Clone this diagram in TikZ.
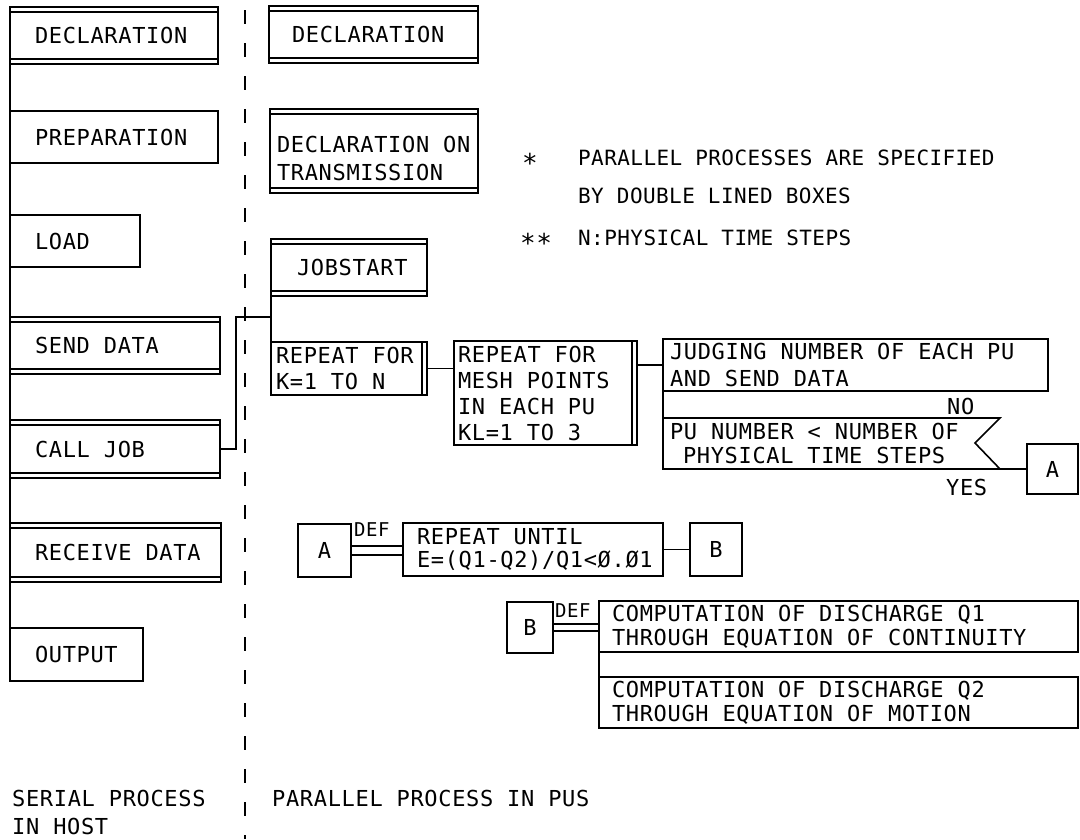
\documentclass[tikz,border=0pt]{standalone}
\usepackage{fontspec}
\newfontfamily\plotfont[LetterSpace=3]{DejaVu Sans Mono}
\newfontfamily\legfont[LetterSpace=2]{DejaVu Sans Mono}
\newcommand\tline[1]{\mbox{#1}}
\begin{document}
\begin{tikzpicture}[x=1pt,y=-1pt,
  ln/.style={line width=1.6pt},
  box/.style={draw, ln, rectangle, anchor=north west, align=left, inner ysep=0pt, outer sep=0pt,
    font=\plotfont\fontsize{22}{26}\selectfont,
    execute at begin node={\spaceskip=0pt\xspaceskip=0pt}},
  pitch/.style={font=\plotfont\fontsize{22}{#1}\selectfont},
  lbl/.style={draw, ln, rectangle, anchor=north west, inner sep=0pt, outer sep=0pt,
    font=\plotfont\fontsize{22}{26}\selectfont},
  txt/.style={inner sep=0pt, font=\plotfont\fontsize{22}{26}\selectfont},
  legtxt/.style={inner sep=0pt, font=\legfont\fontsize{21}{26}\selectfont},
  startxt/.style={inner sep=0pt, font=\legfont\fontsize{26}{26}\selectfont},
  deftxt/.style={inner sep=0pt, font=\plotfont\fontsize{19}{20}\selectfont},
  dbh/.style={path picture={\draw[line width=1.6pt]
    ([yshift=-5pt]path picture bounding box.north west) -- ([yshift=-5pt]path picture bounding box.north east)
    ([yshift=5pt]path picture bounding box.south west) -- ([yshift=5pt]path picture bounding box.south east);}},
  dbv/.style={path picture={\draw[line width=1.6pt]
    ([xshift=-5pt]path picture bounding box.north east) -- ([xshift=-5pt]path picture bounding box.south east);}},
  divider/.style={line width=2.2pt, dash pattern=on 14pt off 19pt}
]
\fill[white] (0,0) rectangle (1080,839);
\useasboundingbox (0,0) rectangle (1080,839);

% ---------- serial process (host) ----------
\node[box, dbh, minimum height=57pt, text width=158pt, inner xsep=25pt] (sdecl) at (10,7) {\tline{DECLARATION}};
\node[box, minimum height=52pt, text width=158pt, inner xsep=25pt] (sprep) at (10,111) {\tline{PREPARATION}};
\node[box, minimum height=52pt, text width=80pt, inner xsep=25pt] (sload) at (10,215) {\tline{LOAD}};
\node[box, dbh, minimum height=57pt, text width=160pt, inner xsep=25pt] (ssend) at (10,317) {\tline{SEND DATA}};
\node[box, dbh, minimum height=58pt, text width=160pt, inner xsep=25pt] (scall) at (10,420) {\tline{CALL JOB}};
\node[box, dbh, minimum height=59pt, text width=161pt, inner xsep=25pt] (srecv) at (10,523) {\tline{RECEIVE DATA}};
\node[box, minimum height=53pt, text width=83pt, inner xsep=25pt] (sout) at (10,628) {\tline{OUTPUT}};
\draw[ln] (sdecl.south west) -- (sout.north west);

% ---------- divider ----------
\coordinate (divtop) at (245,10);
\coordinate (divbot) at (245,839);
\draw[divider] (divtop) -- (divbot);

% ---------- parallel process (PUs) ----------
\node[box, dbh, minimum height=57pt, text width=163pt, inner xsep=23pt] (pdecl) at (269,6) {\tline{DECLARATION}};
\node[box, dbh, pitch=28, minimum height=84pt, text width=194pt, inner xsep=7pt] (ptrans) at (270,109)
  {\rule{0pt}{32pt}\tline{DECLARATION ON}\\\tline{TRANSMISSION}};
\node[box, dbh, minimum height=57pt, text width=104pt, inner xsep=26pt] (pjob) at (271,239) {\tline{JOBSTART}};
\node[box, dbv, pitch=26, minimum height=53pt, text width=146pt, inner xsep=5pt] (prep) at (271,342)
  {\tline{REPEAT FOR}\\\tline{K=1 TO N}};
\node[box, dbv, pitch=26, minimum height=104pt, text width=175pt, inner xsep=4pt] (pmesh) at (454,341)
  {\tline{REPEAT FOR}\\\tline{MESH POINTS}\\\tline{IN EACH PU}\\\tline{KL=1 TO 3}};
\node[box, pitch=27, minimum height=52pt, text width=371pt, inner xsep=7pt] (pjudge) at (663,339)
  {\tline{JUDGING NUMBER OF EACH PU}\\\tline{AND SEND DATA}};

% decision
\node[box, draw=none, pitch=24, minimum height=51pt, text width=300pt, inner xsep=7pt] (dtext) at (663,418)
  {\tline{PU NUMBER < NUMBER OF}\\\hspace*{13pt}\tline{PHYSICAL TIME STEPS}};
\coordinate (dtl) at (663,418);
\coordinate (dtr) at (1000,418);
\coordinate (dap) at (975,443);
\coordinate (dbr) at (1000,469);
\coordinate (dbl) at (663,469);
\draw[ln] (dtl) -- (dtr) -- (dap) -- (dbr) -- (dbl) -- cycle;
\node[txt, anchor=base west] (no) at (947,414) {NO};
\node[txt, anchor=base west] (yes) at (946,495) {YES};
\node[lbl, minimum width=51pt, minimum height=50pt] (aref) at (1027,444) {A};

% connectors (parallel)
\coordinate (ctop) at (236,317);
\coordinate (pj) at (pjob.south west |- ctop);
\draw[ln] (scall.east) -| (ctop) -- (pj);
\draw[ln] (pjob.south west) -- (prep.north west);
\draw[ln] (prep.east) -- (prep.east -| pmesh.west);
\draw[ln] (pjudge.west -| pmesh.east) -- (pjudge.west);
\draw[ln] (pjudge.south west) -- (dtl);
\draw[ln] (dbr) -- (dbr -| aref.west);

% definition of A
\node[lbl, minimum width=53pt, minimum height=53pt] (adef) at (298,524) {A};
\node[box, pitch=23.5, minimum height=53pt, text width=232pt, inner xsep=14pt] (puntil) at (403,523)
  {\tline{REPEAT UNTIL}\\\tline{E=(Q1-Q2)/Q1<Ø.Ø1}};
\node[lbl, minimum width=52pt, minimum height=53pt] (bref) at (690,523) {B};
\node[deftxt, anchor=base west] (defa) at (354,536) {DEF};
\draw[ln] ([yshift=4.5pt]adef.east) -- ([yshift=4.5pt]adef.east -| puntil.west);
\draw[ln] ([yshift=-4.5pt]adef.east) -- ([yshift=-4.5pt]adef.east -| puntil.west);
\draw[ln] (puntil.east) -- (puntil.east -| bref.west);

% definition of B
\node[lbl, minimum width=46pt, minimum height=51pt] (bdef) at (507,602) {B};
\node[box, pitch=24, minimum height=51pt, text width=453pt, inner xsep=13pt] (comp1) at (599,601)
  {\tline{COMPUTATION OF DISCHARGE Q1}\\\tline{THROUGH EQUATION OF CONTINUITY}};
\node[box, pitch=24, minimum height=51pt, text width=453pt, inner xsep=13pt] (comp2) at (599,677)
  {\tline{COMPUTATION OF DISCHARGE Q2}\\\tline{THROUGH EQUATION OF MOTION}};
\node[deftxt, anchor=base west] (defb) at (555,617) {DEF};
\draw[ln] ([yshift=3.5pt]bdef.east) -- ([yshift=3.5pt]bdef.east -| comp1.west);
\draw[ln] ([yshift=-3.5pt]bdef.east) -- ([yshift=-3.5pt]bdef.east -| comp1.west);
\draw[ln] (comp1.south west) -- (comp2.north west);

% legend
\node[startxt, anchor=base west] (st1) at (522,172) {*};
\node[legtxt, anchor=base west] (leg1) at (578,165) {PARALLEL PROCESSES ARE SPECIFIED};
\node[legtxt, anchor=base west] (leg2) at (578,203) {BY DOUBLE LINED BOXES};
\node[startxt, anchor=base west] (st2) at (520,252) {**};
\node[legtxt, anchor=base west] (leg3) at (578,245) {N:PHYSICAL TIME STEPS};

% bottom captions
\node[txt, anchor=north west, align=left, text width=220pt, font=\plotfont\fontsize{22}{28}\selectfont,
  execute at begin node={\spaceskip=0pt\xspaceskip=0pt}] (serial) at (12,790)
  {\tline{SERIAL PROCESS}\\\tline{IN HOST}};
\node[txt, anchor=base west] (parallel) at (272,806) {PARALLEL PROCESS IN PUS};
\end{tikzpicture}
\end{document}
